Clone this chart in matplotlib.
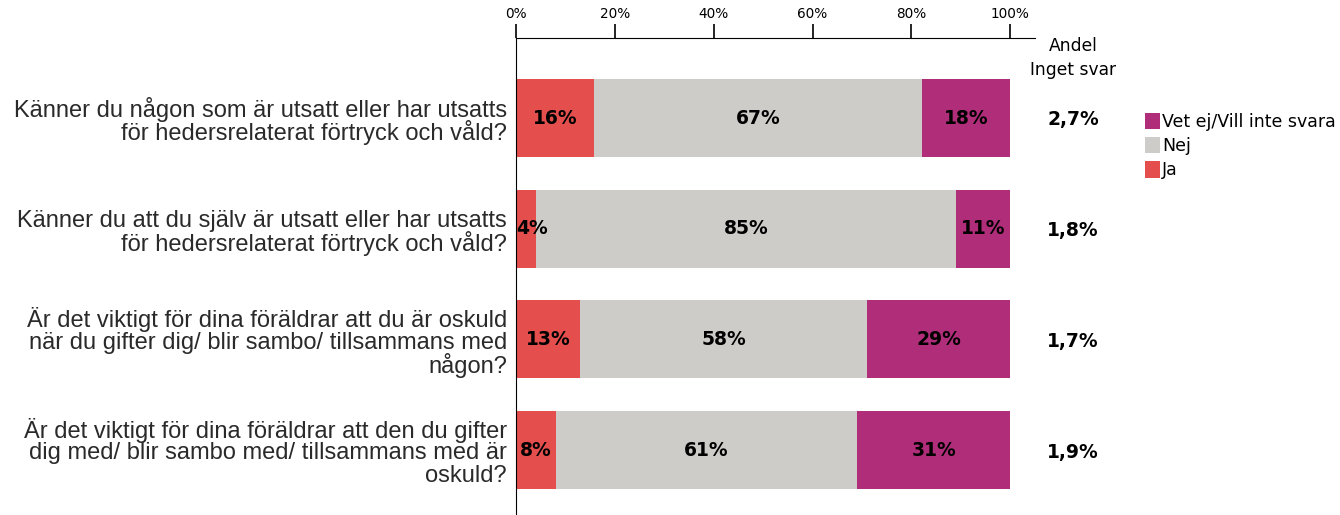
import numpy as np
import matplotlib
matplotlib.use("Agg")
import matplotlib.pyplot as plt
from matplotlib.patches import Patch

questions = [
    ["Känner du någon som är utsatt eller har utsatts",
     "för hedersrelaterat förtryck och våld?"],
    ["Känner du att du själv är utsatt eller har utsatts",
     "för hedersrelaterat förtryck och våld?"],
    ["Är det viktigt för dina föräldrar att du är oskuld",
     "när du gifter dig/ blir sambo/ tillsammans med",
     "någon?"],
    ["Är det viktigt för dina föräldrar att den du gifter",
     "dig med/ blir sambo med/ tillsammans med är",
     "oskuld?"],
]
ja = [16, 4, 13, 8]
nej = [67, 85, 58, 61]
vet_ej = [18, 11, 29, 31]
inget_svar = ["2,7%", "1,8%", "1,7%", "1,9%"]

series_names = ["Ja", "Nej", "Vet ej/Vill inte svara"]
colors = ["#E44F4D", "#CDCCC8", "#B02D7A"]

values = np.array([ja, nej, vet_ej], dtype=float)
# each row is a share of 100 %, rounding makes some rows sum to 101
shares = values / values.sum(axis=0) * 100

W, H = 1340, 515
fig = plt.figure(figsize=(W / 100, H / 100), dpi=100)
ax = fig.add_axes([516 / W, 0.0, (1035 - 516) / W, 1 - 38 / H])

y = np.arange(len(questions))
left = np.zeros(len(questions))
for name, share, vals, col in zip(series_names, shares, values, colors):
    ax.barh(y, share, left=left, height=0.705, color=col, label=name, zorder=2)
    for yi, l, s, v in zip(y, left, share, vals):
        if s < 6:
            ax.text(l, yi, f"{v:.0f}%", ha="left", va="center",
                    fontsize=13.5, fontweight="bold", color="black", zorder=3)
        else:
            ax.text(l + s / 2, yi, f"{v:.0f}%", ha="center", va="center",
                    fontsize=13.5, fontweight="bold", color="black", zorder=3)
    left += share

ax.set_xlim(0, 105)
ax.set_ylim(3.587, -0.723)

ax.xaxis.tick_top()
ax.set_xticks(np.arange(0, 101, 20))
ax.set_xticklabels([f"{t}%" for t in range(0, 101, 20)], fontsize=9.8)
ax.tick_params(axis="x", direction="out", length=10, width=1.2, pad=2)
ax.set_yticks([])
for s in ["right", "bottom"]:
    ax.spines[s].set_visible(False)

# question texts, one line at a time so the line step stays even
line_step = 23 / 110.7
for yi, lines in zip(y, questions):
    n = len(lines)
    for k, line in enumerate(lines):
        ax.text(-1.8, yi + (k - (n - 1) / 2) * line_step + 0.03, line,
                ha="right", va="center", fontsize=17,
                family="Liberation Sans", color="#2a2a2a")

# no-answer column to the right of the bars
for yi, txt in zip(y, inget_svar):
    fig.text(1073 / W, 1 - (120 + 110.7 * yi) / H, txt, ha="center",
             va="center", fontsize=13.5, fontweight="bold")
fig.text(1073 / W, 1 - 46 / H, "Andel", ha="center", va="center", fontsize=12.3)
fig.text(1073 / W, 1 - 70 / H, "Inget svar", ha="center", va="center", fontsize=12.3)

handles = [Patch(facecolor=c, label=n) for n, c in zip(series_names, colors)][::-1]
fig.legend(handles=handles, loc="upper left", bbox_to_anchor=(1131 / W, 1 - 99 / H),
           frameon=False, fontsize=12.5, handlelength=0.85, handleheight=1.05,
           handletextpad=0.15, labelspacing=0.36, borderpad=0.3)

fig.savefig("out.png", dpi=100)
